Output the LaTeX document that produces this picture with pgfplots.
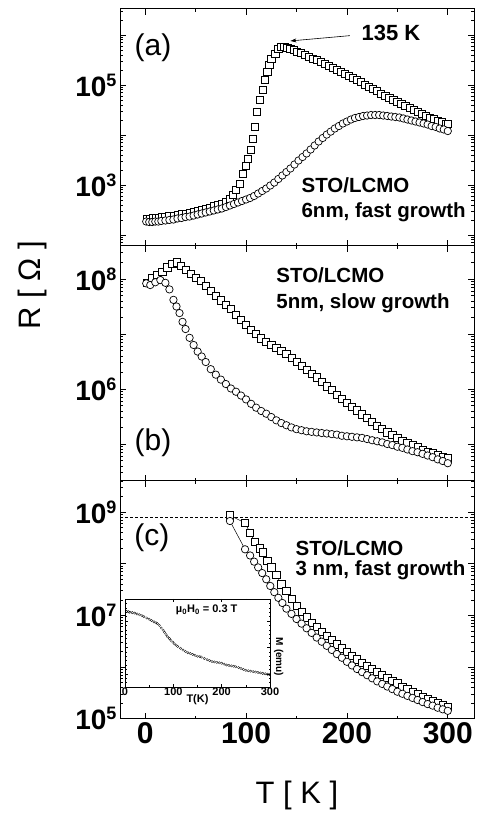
\documentclass[border=0pt]{standalone}
\usepackage{fontspec}
\setmainfont{Liberation Sans}
\usepackage{pgfplots}
\pgfplotsset{compat=1.18}
\usetikzlibrary{arrows.meta}

\newcommand\dec[1]{10\raisebox{10pt}{\fontsize{18}{18}\selectfont #1}}

\pgfplotsset{
  panel/.style={
    scale only axis, width=354pt,
    xmin=-25, xmax=326,
    xtick={0,100,200,300}, minor xtick={50,150,250},
    xticklabels={},
    tick align=inside,
    major tick length=6pt, minor tick length=3pt,
    every tick/.style={black, line width=0.7pt},
    axis line style={line width=1pt},
    yticklabel style={font=\fontsize{28}{28}\selectfont\bfseries},
  },
  sq/.style={only marks, mark=square*, mark size=3.6pt,
    mark options={fill=white, draw=black, line width=0.7pt}},
  ci/.style={only marks, mark=*, mark size=3.7pt,
    mark options={fill=white, draw=black, line width=0.7pt}},
  sql/.style={black, line width=0.5pt, mark=square*, mark size=3.6pt,
    mark options={fill=white, draw=black, line width=0.7pt}},
  cil/.style={black, line width=0.5pt, mark=*, mark size=3.7pt,
    mark options={fill=white, draw=black, line width=0.7pt}},
}
\tikzset{
  lbl/.style={font=\fontsize{20.5}{20.5}\selectfont\bfseries, anchor=west},
  plab/.style={font=\fontsize{30}{30}\selectfont},
}

\begin{document}
\begin{tikzpicture}
\useasboundingbox (0,0) rectangle (477pt,813pt);

% ---------- (a) ----------
\begin{axis}[panel, ymode=log, at={(120pt,567pt)}, anchor=south west, height=237pt,
  ymin=60.3, ymax=3.31e6,
  ytick={1e2,1e3,1e4,1e5,1e6},
  yticklabels={,\dec{3},,\dec{5},},
  minor ytick={70,80,90,2e2,3e2,4e2,5e2,6e2,7e2,8e2,9e2,2e3,3e3,4e3,5e3,6e3,7e3,8e3,9e3,2e4,3e4,4e4,5e4,6e4,7e4,8e4,9e4,2e5,3e5,4e5,5e5,6e5,7e5,8e5,9e5,2e6,3e6},
]
\addplot[sq] coordinates {
(2,2.14e2) (5,2.14e2) (8,2.19e2) (11,2.19e2) (14,2.24e2) (17,2.29e2) (20,2.34e2)
(24,2.40e2) (28,2.45e2) (32,2.51e2) (36,2.63e2) (40,2.69e2) (44,2.82e2) (48,2.88e2)
(52,3.02e2) (56,3.16e2) (60,3.39e2) (64,3.55e2) (68,3.80e2) (72,3.98e2) (76,4.27e2)
(80,4.57e2) (84,5.25e2) (87,6.31e2) (90,7.94e2) (94,1.07e3) (97,1.66e3) (100,2.40e3)
(102,3.31e3) (105,5.01e3) (107,8.32e3) (109,1.48e4) (111,2.95e4) (114,5.01e4)
(117,7.94e4) (119,1.26e5) (121,1.86e5) (123,2.51e5) (125,3.39e5) (129,4.27e5)
(132,5.37e5) (135,5.89e5) (138,5.89e5) (141,5.62e5) (144,5.25e5) (147,5.01e5)
(150,4.68e5) (154,4.37e5) (158,3.98e5) (162,3.72e5) (166,3.39e5) (170,3.16e5)
(174,2.88e5) (178,2.63e5) (182,2.40e5) (186,2.19e5) (190,2.00e5) (194,1.82e5)
(198,1.66e5) (202,1.51e5) (206,1.38e5) (210,1.26e5) (214,1.15e5) (218,1.02e5)
(222,9.33e4) (226,8.32e4) (230,7.59e4) (234,6.76e4) (238,6.17e4) (242,5.50e4)
(246,5.01e4) (250,4.57e4) (254,4.17e4) (258,3.80e4) (262,3.47e4) (266,3.16e4)
(270,2.88e4) (274,2.63e4) (278,2.40e4) (282,2.24e4) (286,2.09e4) (290,1.95e4)
(294,1.82e4) (298,1.70e4) (300,1.66e4)
};
\addplot[ci] coordinates {
(1,1.86e2) (4,1.82e2) (7,1.82e2) (10,1.86e2) (13,1.86e2) (16,1.91e2) (20,1.95e2)
(24,2.00e2) (28,2.04e2) (32,2.14e2) (36,2.19e2) (40,2.29e2) (44,2.34e2) (48,2.45e2)
(52,2.57e2) (56,2.69e2) (60,2.82e2) (64,2.95e2) (68,3.09e2) (72,3.24e2) (76,3.39e2)
(80,3.63e2) (84,3.89e2) (88,4.17e2) (92,4.47e2) (96,4.79e2) (100,5.13e2) (104,5.50e2)
(108,6.03e2) (112,6.76e2) (116,7.59e2) (120,8.51e2) (124,9.77e2) (128,1.12e3)
(132,1.32e3) (136,1.55e3) (140,1.82e3) (144,2.14e3) (148,2.57e3) (152,3.09e3)
(156,3.63e3) (160,4.27e3) (164,5.13e3) (168,6.17e3) (172,7.41e3) (176,8.71e3)
(180,1.02e4) (184,1.17e4) (188,1.35e4) (192,1.51e4) (196,1.70e4) (200,1.86e4)
(204,2.04e4) (208,2.19e4) (212,2.29e4) (216,2.40e4) (220,2.45e4) (224,2.51e4)
(228,2.51e4) (232,2.51e4) (236,2.45e4) (240,2.40e4) (244,2.34e4) (248,2.29e4)
(252,2.24e4) (256,2.14e4) (260,2.04e4) (264,1.95e4) (268,1.86e4) (272,1.78e4)
(276,1.70e4) (280,1.62e4) (284,1.51e4) (288,1.45e4) (292,1.35e4) (296,1.29e4)
(300,1.20e4)
};
\node[plab] at (rel axis cs:0.093,0.835) {(a)};
\node[lbl] at (rel axis cs:0.503,0.257) {STO/LCMO};
\node[lbl] at (rel axis cs:0.503,0.143) {6nm, fast growth};
\draw[-{Stealth[length=6pt,width=4pt]}, line width=0.6pt]
  (axis cs:203,9.7e5) -- (axis cs:144,7.6e5);
\node[font=\fontsize{22}{22}\selectfont\bfseries, anchor=west]
  at (axis cs:211,1.1e6) {135 K};
\end{axis}

% ---------- (b) ----------
\begin{axis}[panel, ymode=log, at={(120pt,332pt)}, anchor=south west, height=235pt,
  ymin=2.123e4, ymax=3.98e8,
  ytick={1e5,1e6,1e7,1e8},
  yticklabels={,\dec{6},,\dec{8}},
  minor ytick={3e4,4e4,5e4,6e4,7e4,8e4,9e4,2e5,3e5,4e5,5e5,6e5,7e5,8e5,9e5,2e6,3e6,4e6,5e6,6e6,7e6,8e6,9e6,2e7,3e7,4e7,5e7,6e7,7e7,8e7,9e7,2e8,3e8},
]
\addplot[sq] coordinates {
(2,8.51e7) (7,1.05e8) (12,1.20e8) (17,1.35e8) (22,1.62e8) (27,1.91e8) (31,2.00e8)
(35,1.74e8) (40,1.48e8) (45,1.23e8) (50,1.05e8) (55,9.12e7) (60,7.59e7) (65,6.17e7)
(70,5.01e7) (75,4.07e7) (80,3.39e7) (85,2.82e7) (90,2.24e7) (95,1.78e7) (100,1.45e7)
(105,1.20e7) (110,1.00e7) (115,8.32e6) (120,7.08e6) (125,6.31e6) (130,5.62e6)
(135,5.01e6) (140,4.37e6) (145,3.72e6) (150,3.16e6) (155,2.63e6) (160,2.24e6)
(165,1.91e6) (170,1.62e6) (175,1.35e6) (180,1.12e6) (185,9.55e5) (190,7.94e5)
(195,6.61e5) (200,5.62e5) (205,4.79e5) (210,4.07e5) (215,3.47e5) (220,2.95e5)
(225,2.51e5) (230,2.14e5) (235,1.86e5) (240,1.62e5) (245,1.45e5) (250,1.29e5)
(255,1.15e5) (260,1.05e5) (265,9.55e4) (270,8.71e4) (275,7.94e4) (280,7.24e4)
(285,6.76e4) (290,6.31e4) (295,5.89e4) (300,5.50e4)
};
\addplot[ci] coordinates {
(1,8.32e7) (5,7.76e7) (10,8.71e7) (15,9.55e7) (20,8.51e7) (24,6.46e7) (28,4.17e7)
(31,3.16e7) (34,2.40e7) (37,1.66e7) (40,1.23e7) (44,8.51e6) (48,6.31e6) (52,4.79e6)
(56,3.89e6) (60,3.09e6) (65,2.29e6) (70,1.82e6) (75,1.48e6) (80,1.23e6) (85,1.02e6)
(90,8.91e5) (95,7.59e5) (100,6.46e5) (105,5.37e5) (110,4.57e5) (115,3.98e5)
(120,3.55e5) (125,3.09e5) (130,2.69e5) (135,2.40e5) (140,2.19e5) (145,2.00e5)
(150,1.86e5) (155,1.78e5) (160,1.70e5) (165,1.66e5) (170,1.62e5) (175,1.58e5)
(180,1.55e5) (185,1.51e5) (190,1.48e5) (195,1.41e5) (200,1.38e5) (205,1.35e5)
(210,1.32e5) (215,1.29e5) (220,1.23e5) (225,1.17e5) (230,1.12e5) (235,1.07e5)
(240,1.00e5) (245,9.55e4) (250,8.91e4) (255,8.51e4) (260,7.94e4) (265,7.41e4)
(270,7.08e4) (275,6.61e4) (280,6.17e4) (285,5.75e4) (290,5.25e4) (295,4.90e4)
(300,4.47e4)
};
\node[plab] at (rel axis cs:0.093,0.162) {(b)};
\node[lbl] at (rel axis cs:0.432,0.877) {STO/LCMO};
\node[lbl] at (rel axis cs:0.432,0.757) {5nm, slow growth};
\end{axis}

% ---------- (c) ----------
\begin{axis}[panel, ymode=log, at={(120pt,94pt)}, anchor=south west, height=238pt,
  ymin=9.8e4, ymax=4.03e9,
  ytick={1e5,1e6,1e7,1e8,1e9},
  yticklabels={\dec{5},,\dec{7},,\dec{9}},
  minor ytick={2e5,3e5,4e5,5e5,6e5,7e5,8e5,9e5,2e6,3e6,4e6,5e6,6e6,7e6,8e6,9e6,2e7,3e7,4e7,5e7,6e7,7e7,8e7,9e7,2e8,3e8,4e8,5e8,6e8,7e8,8e8,9e8,2e9,3e9,4e9},
  xticklabels={0,100,200,300},
  xticklabel style={font=\fontsize{30}{30}\selectfont\bfseries},
]
\draw[line width=0.6pt, dash pattern=on 3pt off 2pt]
  (axis cs:-25,7.94e8) -- (axis cs:326,7.94e8);
\addplot[sql] coordinates {
(84,8.71e8) (99,6.17e8) (104,3.98e8) (109,2.63e8) (114,2.00e8) (117,1.66e8)
(121,1.15e8) (125,8.51e7) (130,6.03e7) (135,3.98e7) (140,2.95e7) (145,2.09e7)
(150,1.55e7) (155,1.17e7) (160,9.12e6) (165,7.24e6) (170,5.89e6) (175,4.79e6)
(180,3.98e6) (185,3.31e6) (190,2.75e6) (195,2.29e6) (200,1.95e6) (205,1.66e6)
(210,1.41e6) (215,1.20e6) (220,1.05e6) (225,9.12e5) (230,7.94e5) (235,6.92e5)
(240,6.17e5) (245,5.37e5) (250,4.79e5) (255,4.17e5) (260,3.72e5) (265,3.31e5)
(270,2.95e5) (275,2.63e5) (280,2.40e5) (285,2.19e5) (290,2.00e5) (295,1.82e5)
(300,1.66e5)
};
\addplot[cil] coordinates {
(84,6.76e8) (99,1.91e8) (104,1.45e8) (108,1.10e8) (112,8.51e7) (116,6.61e7)
(120,5.01e7) (124,3.72e7) (128,2.82e7) (132,2.19e7) (136,1.74e7) (140,1.35e7)
(145,1.07e7) (150,8.51e6) (155,6.92e6) (160,5.62e6) (165,4.57e6) (170,3.72e6)
(175,3.09e6) (180,2.57e6) (185,2.14e6) (190,1.78e6) (195,1.51e6) (200,1.26e6)
(205,1.07e6) (210,9.12e5) (215,7.94e5) (220,6.92e5) (225,6.03e5) (230,5.25e5)
(235,4.68e5) (240,4.17e5) (245,3.72e5) (250,3.31e5) (255,3.02e5) (260,2.75e5)
(265,2.51e5) (270,2.29e5) (275,2.09e5) (280,1.91e5) (285,1.78e5) (290,1.62e5)
(295,1.51e5) (300,1.41e5)
};
\node[plab] at (rel axis cs:0.09,0.76) {(c)};
\node[lbl] at (rel axis cs:0.486,0.718) {STO/LCMO};
\node[lbl] at (rel axis cs:0.486,0.626) {3 nm, fast growth};
\end{axis}

% ---------- inset ----------
\begin{axis}[at={(125pt,126pt)}, anchor=south west, scale only axis,
  width=145pt, height=88pt, xmin=0, xmax=300, ymin=0, ymax=1,
  clip=false,
  axis background/.style={fill=white},
  axis line style={line width=0.8pt},
  tick align=inside, major tick length=3pt, minor tick length=1.5pt,
  every tick/.style={black, line width=0.5pt},
  xtick={0,100,200,300}, minor xtick={50,150,250},
  ytick={0.15,0.45,0.75}, minor ytick={0.05,0.1,0.2,0.25,0.3,0.35,0.4,0.5,0.55,0.6,0.65,0.7,0.8,0.85,0.9,0.95},
  yticklabels={},
  xticklabels={0,100,200,300},
  xticklabel style={font=\fontsize{11}{11}\selectfont\bfseries, inner sep=1pt},
  xlabel={T(K)}, xlabel style={font=\fontsize{11}{11}\selectfont\bfseries, yshift=6pt},
]
\addplot[only marks, mark=o, mark size=1.2pt, mark options={line width=0.3pt}] coordinates {
(3,0.86) (7,0.855) (10,0.85) (15,0.845) (20,0.84) (25,0.83) (30,0.82) (35,0.81)
(39,0.80) (45,0.785) (50,0.77) (55,0.755) (60,0.74) (64,0.73) (67,0.72) (71,0.70)
(75,0.67) (79,0.645) (82,0.62) (85,0.595) (88,0.57) (92,0.55) (95,0.53) (99,0.51)
(102,0.49) (106,0.475) (109,0.46) (115,0.44) (120,0.42) (125,0.405) (130,0.39)
(135,0.38) (140,0.37) (145,0.36) (150,0.35) (155,0.345) (158,0.34) (164,0.325)
(170,0.31) (175,0.30) (180,0.29) (185,0.285) (190,0.28) (195,0.275) (200,0.27)
(205,0.26) (210,0.25) (215,0.245) (220,0.24) (225,0.235) (229,0.23) (235,0.22)
(240,0.21) (245,0.20) (250,0.19) (255,0.185) (260,0.18) (265,0.175) (270,0.17)
(275,0.165) (280,0.16) (285,0.155) (290,0.15) (295,0.145) (299,0.14)
};
\node[font=\fontsize{11}{11}\selectfont\bfseries] at (axis cs:169,0.875)
  {µ\textsubscript{0}H\textsubscript{0} = 0.3 T};
\node[font=\fontsize{10}{10}\selectfont\bfseries, rotate=-90]
  at (rel axis cs:1.06,0.34) {M (emu)};
\end{axis}

% axis titles
\node[font=\fontsize{31}{31}\selectfont] at (297pt,18pt) {T [ K ]};
\node[font=\fontsize{31}{31}\selectfont, rotate=90] at (32pt,528pt) {R [ Ω ]};
\end{tikzpicture}
\end{document}
